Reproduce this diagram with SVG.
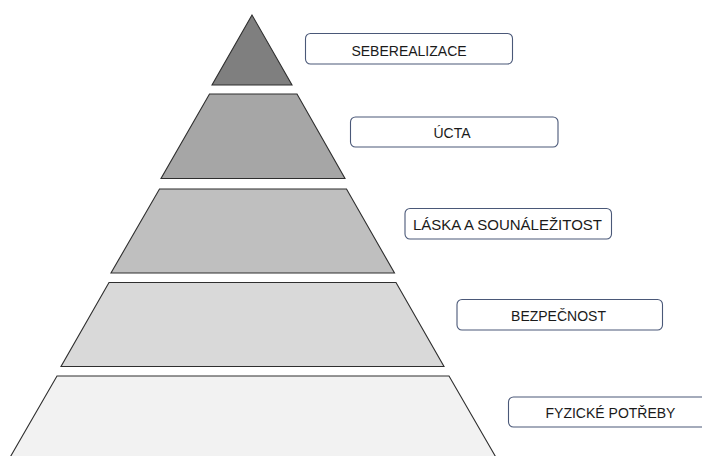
<svg xmlns="http://www.w3.org/2000/svg" width="702" height="456" viewBox="0 0 702 456">
<style>
.layer{stroke:#2e2e2e;stroke-width:1.1;stroke-linejoin:miter}
.box{fill:#ffffff;stroke:#4a5878;stroke-width:1.1}
.lbl{font-family:"Liberation Sans",Arial,sans-serif;font-size:14px;fill:#1a1a1a;text-anchor:middle}
</style>
<rect x="0" y="0" width="702" height="456" fill="#ffffff"/>
<g id="layer-seberealizace">
<polygon class="layer" points="252,15 212,85 292,85" fill="#7f7f7f"/>
<rect class="box" x="305.5" y="33.5" width="207" height="30.5" rx="5"/>
<text class="lbl" x="409" y="55.5">SEBEREALIZACE</text>
</g>
<g id="layer-ucta">
<polygon class="layer" points="209.5,94 297,94 345,178.5 161,178.5" fill="#a6a6a6"/>
<rect class="box" x="350.5" y="117" width="207.5" height="30" rx="5"/>
<text class="lbl" x="452" y="138">ÚCTA</text>
</g>
<g id="layer-laska">
<polygon class="layer" points="159.5,189 346.5,189 394.5,273 111,273" fill="#bfbfbf"/>
<rect class="box" x="405" y="208.5" width="206.5" height="30.5" rx="5"/>
<text class="lbl" x="507.5" y="230" style="font-size:15px">LÁSKA A SOUNÁLEŽITOST</text>
</g>
<g id="layer-bezpecnost">
<polygon class="layer" points="109,282.5 396,282.5 444,366.5 61,366.5" fill="#d9d9d9"/>
<rect class="box" x="457" y="299.5" width="205.5" height="30.5" rx="5"/>
<text class="lbl" x="558.5" y="321">BEZPEČNOST</text>
</g>
<g id="layer-fyzicke">
<polygon class="layer" points="57,376 449,376 497.5,460 8.5,460" fill="#f2f2f2"/>
<rect class="box" x="508.5" y="397" width="207" height="30" rx="5"/>
<text class="lbl" x="610.5" y="418">FYZICKÉ POTŘEBY</text>
</g>
</svg>
